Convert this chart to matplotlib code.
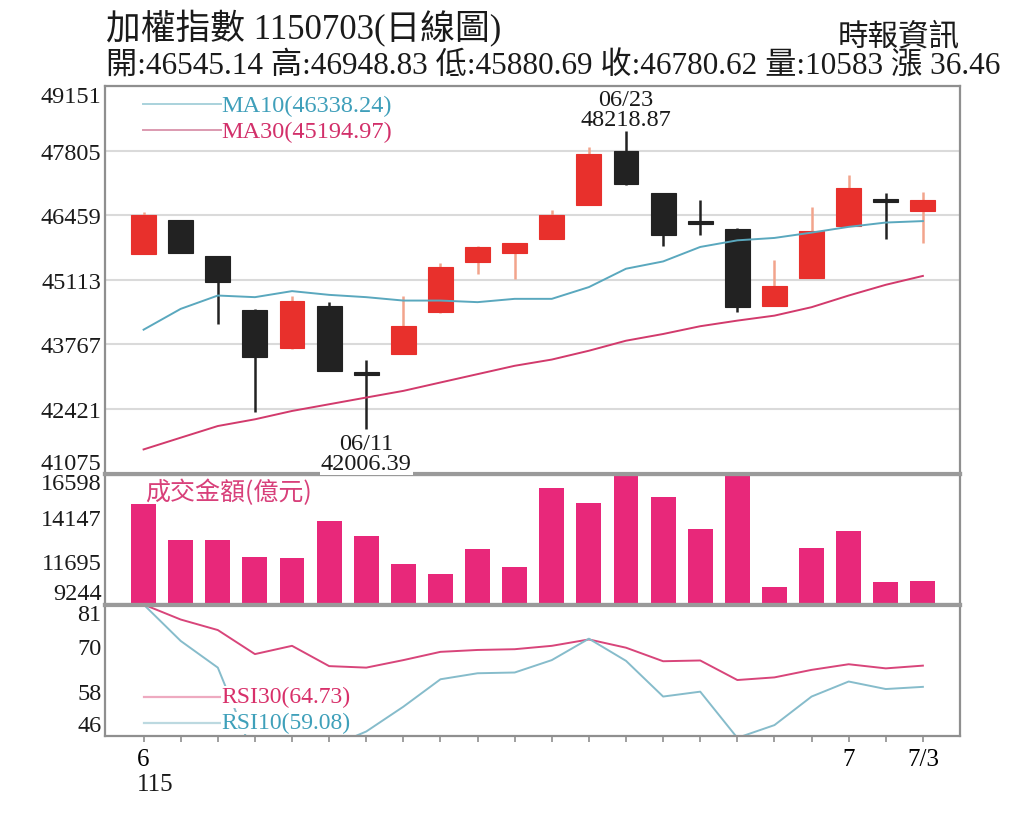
import matplotlib
matplotlib.use('Agg')
import matplotlib.pyplot as plt
import matplotlib.transforms as mtransforms
import numpy as np

SERIF = ['Liberation Serif', 'Noto Sans CJK TC', 'DejaVu Sans']
CJK = ['Noto Sans CJK TC', 'DejaVu Sans']
plt.rcParams['font.family'] = SERIF

# ---------------- data ----------------
opens = [45659, 46356, 45611, 44493, 43685, 44564, 43170, 43566, 44438, 45485, 45680,
         45973, 46684, 47800, 46914, 46330, 46182, 44577, 45150, 46238, 46800, 46545.14]
highs = [46538, 46370, 45620, 44500, 44786, 44660, 43446, 44786, 45464, 45810, 45890,
         46565, 47877, 48218.87, 46920, 46774, 46190, 45518, 46636, 47297, 46914, 46948.83]
lows = [45650, 45670, 44194, 42358, 43680, 43210, 42006.39, 43560, 44430, 45240, 45135,
        45965, 46680, 47100, 45812, 46042, 44438, 44570, 45145, 46230, 45958, 45880.69]
closes = [46460, 45680, 45066, 43497, 44681, 43216, 43140, 44158, 45380, 45799, 45883,
          46460, 47731, 47103, 46042, 46300, 44556, 44995, 46126, 47019, 46744.16, 46780.62]

ma10 = [44074, 44508, 44786, 44752, 44878, 44800, 44752, 44681, 44681, 44648, 44717,
        44717, 44962, 45345, 45497, 45799, 45937, 45987, 46098, 46218, 46308, 46338.24]
ma30 = [41577, 41822, 42065, 42205, 42379, 42519, 42659, 42798, 42973, 43147, 43321,
        43451, 43635, 43844, 43984, 44146, 44263, 44367, 44543, 44786, 45010, 45194.97]

volume = [14897, 12837, 12837, 11899, 11866, 13920, 13078, 11490, 10984, 12332, 11377,
          15796, 14953, 16542, 15268, 13494, 16447, 10238, 12405, 13398, 10496, 10583]

rsi30 = [81, 77.0, 74.2, 67.8, 70.0, 64.6, 64.2, 66.2, 68.4, 68.9, 69.1,
         70.0, 71.7, 69.5, 65.9, 66.1, 60.9, 61.6, 63.6, 65.1, 64.0, 64.73]
rsi10 = [81, 71.3, 64.2, 40.0, 42.0, 43.0, 47.2, 53.8, 61.1, 62.7, 62.9,
         66.2, 71.9, 66.0, 56.5, 57.8, 45.5, 48.9, 56.5, 60.5, 58.5, 59.08]

price_ticks = [41075, 42421, 43767, 45113, 46459, 47805, 49151]
vol_ticks = [9244, 11695, 14147, 16598]
rsi_ticks = [46, 58, 70, 81]

x_labels = {0: '6', 19: '7', 21: '7/3'}
year_label = '115'

title = '加權指數 1150703(日線圖)'
source = '時報資訊'
summary = '開:46545.14 高:46948.83 低:45880.69 收:46780.62 量:10583 漲 36.46'
high_note = ('06/23', '48218.87')
low_note = ('06/11', '42006.39')

# ---------------- colours ----------------
RED = '#e8302c'
BLACK = '#222222'
RED_WICK = '#f2a48c'
PINK_BAR = '#e8287a'
MA10_C = '#5aa8be'
MA30_C = '#d23a6c'
RSI30_C = '#d8457a'
RSI10_C = '#86bccb'
FRAME = '#8f8f8f'
SEP = '#9a9a9a'

n = len(closes)
x = np.arange(n)

fig = plt.figure(figsize=(10.24, 8.2), dpi=100)
H = 820.0
L = 105 / 1024
W = 855 / 1024
ax_p = fig.add_axes([L, (H - 474.5) / H, W, (474.5 - 87.2) / H])
ax_v = fig.add_axes([L, (H - 605.5) / H, W, (605.5 - 474.5) / H])
ax_r = fig.add_axes([L, (H - 737) / H, W, (737 - 605.5) / H])

for ax in (ax_p, ax_v, ax_r):
    ax.set_xlim(-1.04, 22.0)
    for s in ax.spines.values():
        s.set_color(FRAME)
        s.set_linewidth(1.6)
    ax.tick_params(axis='y', length=0, pad=2.5, labelsize=17.5, colors='#1a1a1a')
    ax.tick_params(axis='x', length=0, labelbottom=False)

ax_p.spines['bottom'].set_linewidth(3)
ax_p.spines['bottom'].set_color(SEP)
ax_v.spines['top'].set_linewidth(3)
ax_v.spines['top'].set_color(SEP)
ax_v.spines['bottom'].set_linewidth(3)
ax_v.spines['bottom'].set_color(SEP)
ax_r.spines['top'].set_linewidth(3)
ax_r.spines['top'].set_color(SEP)

# ---------------- price panel ----------------
ax_p.set_ylim(price_ticks[0], price_ticks[-1])
ax_p.set_yticks(price_ticks)
ax_p.set_yticklabels([str(t) for t in price_ticks])
ax_p.grid(axis='y', color='#dadada', lw=1.5)
ax_p.set_axisbelow(True)
pl = ax_p.get_yticklabels()
pl[0].set_va('bottom')
pl[-1].set_va('top')

o = np.array(opens, float)
c = np.array(closes, float)
up = c > o
body_col = [RED if u else BLACK for u in up]
wick_col = [RED_WICK if u else BLACK for u in up]
ax_p.vlines(x, lows, highs, colors=wick_col, lw=1.8, zorder=2)
body_h = np.maximum(np.abs(c - o), 60)
body_b = np.where(np.abs(c - o) < 60, (o + c) / 2 - 30, np.minimum(o, c))
ax_p.bar(x, body_h, bottom=body_b, width=0.67, color=body_col,
         edgecolor=body_col, lw=0.8, zorder=3)

ax_p.plot(x, ma10, color=MA10_C, lw=1.4, zorder=4)
ax_p.plot(x, ma30, color=MA30_C, lw=1.4, zorder=4)

# legend
ax_p.plot([0.0444, 0.1357], [0.954, 0.954], transform=ax_p.transAxes, color='#a9d2dc', lw=1.4)
ax_p.plot([0.0444, 0.1357], [0.888, 0.888], transform=ax_p.transAxes, color='#dc9ab0', lw=1.4)
ax_p.text(0.1357, 0.951, 'MA10(46338.24)', transform=ax_p.transAxes, color='#3f9fba',
          fontsize=17.5, va='center', ha='left')
ax_p.text(0.1357, 0.882, 'MA30(45194.97)', transform=ax_p.transAxes, color='#d2306a',
          fontsize=17.5, va='center', ha='left')

# high / low annotations
i_hi = int(np.argmax(highs))
i_lo = int(np.argmin(lows))
ax_p.annotate(high_note[0] + '\n' + high_note[1], xy=(i_hi, highs[i_hi]),
              xytext=(0, 1), textcoords='offset pixels', ha='center', va='bottom',
              fontsize=17.5, linespacing=0.95, color='#1a1a1a', annotation_clip=False)
ax_p.annotate(low_note[0] + '\n' + low_note[1], xy=(i_lo, lows[i_lo]),
              xytext=(0, -4), textcoords='offset pixels', ha='center', va='top',
              fontsize=17.5, linespacing=0.95, color='#1a1a1a', annotation_clip=False,
              bbox=dict(boxstyle='square,pad=0.05', fc='white', ec='none'))
ax_p.set_zorder(3)

# ---------------- volume panel ----------------
ax_v.set_ylim(vol_ticks[0], vol_ticks[-1])
ax_v.set_yticks(vol_ticks)
ax_v.set_yticklabels([str(t) for t in vol_ticks])
vl = ax_v.get_yticklabels()
vl[0].set_va('bottom')
vl[-1].set_va('top')
ax_v.bar(x, np.array(volume) - vol_ticks[0], bottom=vol_ticks[0], width=0.67,
         color=PINK_BAR, zorder=2)
ax_v.text(0.0468, 0.862, '成交金額(億元)', transform=ax_v.transAxes, color='#d8407a',
          fontsize=18, va='center', ha='left', family=CJK, zorder=5)

# ---------------- RSI panel ----------------
ax_r.set_ylim(rsi_ticks[0], rsi_ticks[-1])
ax_r.set_yticks(rsi_ticks)
ax_r.set_yticklabels([str(t) for t in rsi_ticks])
rl = ax_r.get_yticklabels()
rl[0].set_va('bottom')
rl[-1].set_va('top')
ax_r.plot(x, rsi30, color=RSI30_C, lw=1.4, zorder=2)
ax_r.plot(x, rsi10, color=RSI10_C, lw=1.4, zorder=2)
ax_r.plot([0.0456, 0.1357], [0.30, 0.30], transform=ax_r.transAxes, color='#eeaac0', lw=1.6, zorder=4)
ax_r.plot([0.0456, 0.1357], [0.10, 0.10], transform=ax_r.transAxes, color='#bcd9e0', lw=1.6, zorder=4)
ax_r.text(0.1357, 0.298, 'RSI30(64.73)', transform=ax_r.transAxes, color='#d8306a',
          fontsize=17, va='center', ha='left', zorder=5,
          bbox=dict(boxstyle='square,pad=0.02', fc='white', ec='none'))
ax_r.text(0.1357, 0.10, 'RSI10(59.08)', transform=ax_r.transAxes, color='#3fa0ba',
          fontsize=17, va='center', ha='left', zorder=5,
          bbox=dict(boxstyle='square,pad=0.02', fc='white', ec='none'))

ax_r.set_xticks(x)
ax_r.set_xticklabels([x_labels.get(i, '') for i in x])
ax_r.tick_params(axis='x', length=4, width=1.2, color=FRAME, direction='out',
                 labelbottom=True, labelsize=18, pad=5)
blend = mtransforms.blended_transform_factory(ax_r.transData, ax_r.transAxes)
ax_r.text(-0.17, -0.28, year_label, transform=blend, ha='left', va='top', fontsize=18,
          color='#1a1a1a')

# ---------------- header ----------------
fig.text(106 / 1024, 1 - 29 / H, title, fontsize=25, va='center', ha='left', color='#1a1a1a')
fig.text(960 / 1024, 1 - 38 / H, source, fontsize=22, va='center', ha='right',
         family=CJK, color='#1a1a1a')
fig.text(106 / 1024, 1 - 67 / H, summary, fontsize=22.5, va='center', ha='left',
         color='#1a1a1a')

fig.savefig('out.png', dpi=100, facecolor='white')
